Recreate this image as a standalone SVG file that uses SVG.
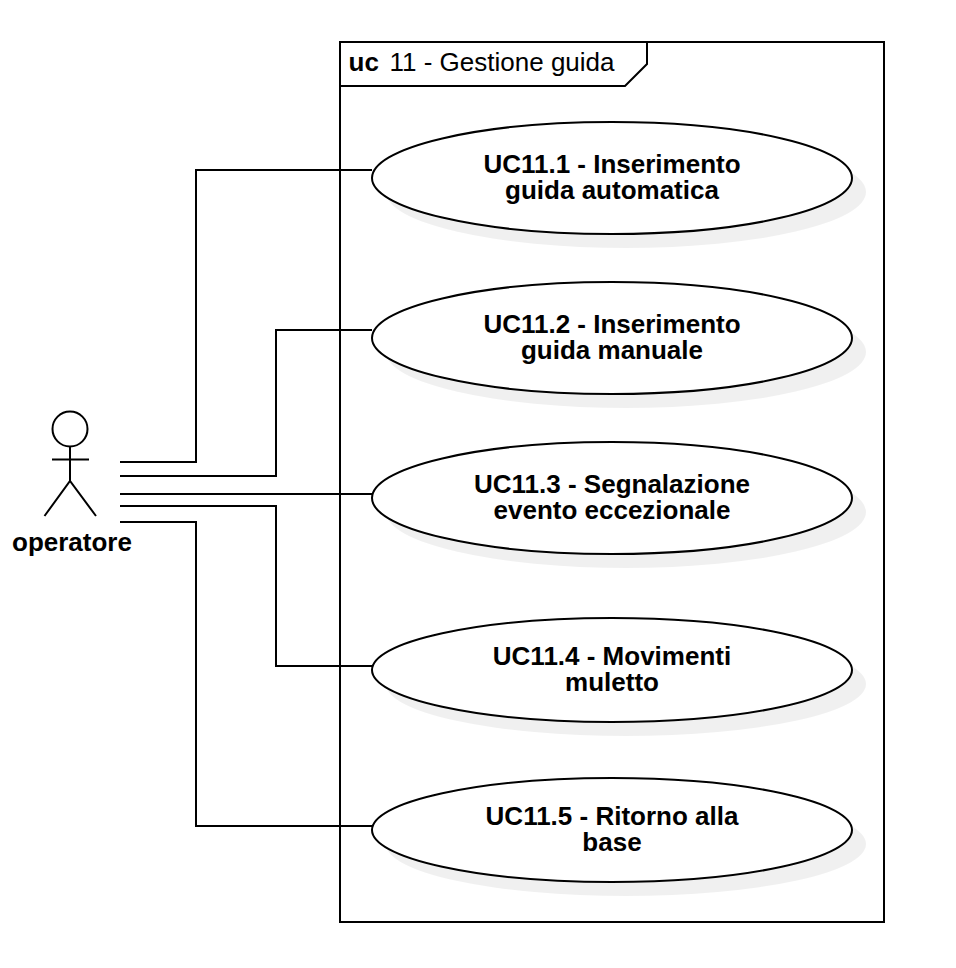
<svg xmlns="http://www.w3.org/2000/svg" width="956" height="968" viewBox="0 0 956 968">
<style>
.ln{fill:none;stroke:#000;stroke-width:2}
.sh{fill:#000;fill-opacity:.06;stroke:none}
.uc{fill:#fff;stroke:#000;stroke-width:2}
text{font-family:"Liberation Sans",Arial,sans-serif;fill:#000;font-size:26px}
.b{font-weight:bold;text-anchor:middle}
</style>
<rect width="956" height="968" fill="#fff"/>
<g id="frame">
<rect x="340" y="42" width="544" height="880" class="ln"/>
<path d="M340 86H625L647 64V42" class="ln"/>
<text x="348.500" y="71" font-weight="bold">uc</text>
<text x="389.500" y="71">11 - Gestione guida</text>
</g>
<g id="connectors">
<path d="M120 462H196V170H372" class="ln"/>
<path d="M120 476H276V330H372" class="ln"/>
<path d="M120 494H372" class="ln"/>
<path d="M120 506H276V666H372" class="ln"/>
<path d="M120 522H196V826H372" class="ln"/>
</g>
<g id="actor">
<circle cx="70" cy="429" r="17.500" class="ln"/>
<path d="M70 447V481M52 459.500H89M44.500 516L70 481L96 516" class="ln"/>
<text x="72" y="551" class="b">operatore</text>
</g>
<g id="uc1">
<ellipse cx="626" cy="192" rx="240" ry="56" class="sh"/>
<ellipse cx="612" cy="178" rx="240" ry="56" class="uc"/>
<text class="b"><tspan x="612" y="173">UC11.1 - Inserimento</tspan><tspan x="612" y="199">guida automatica</tspan></text>
</g>
<g id="uc2">
<ellipse cx="626" cy="352" rx="240" ry="56" class="sh"/>
<ellipse cx="612" cy="338" rx="240" ry="56" class="uc"/>
<text class="b"><tspan x="612" y="333">UC11.2 - Inserimento</tspan><tspan x="612" y="359">guida manuale</tspan></text>
</g>
<g id="uc3">
<ellipse cx="626" cy="512" rx="240" ry="56" class="sh"/>
<ellipse cx="612" cy="498" rx="240" ry="56" class="uc"/>
<text class="b"><tspan x="612" y="493">UC11.3 - Segnalazione</tspan><tspan x="612" y="519">evento eccezionale</tspan></text>
</g>
<g id="uc4">
<ellipse cx="626" cy="684" rx="240" ry="52" class="sh"/>
<ellipse cx="612" cy="670" rx="240" ry="52" class="uc"/>
<text class="b"><tspan x="612" y="665">UC11.4 - Movimenti</tspan><tspan x="612" y="691">muletto</tspan></text>
</g>
<g id="uc5">
<ellipse cx="626" cy="844" rx="240" ry="52" class="sh"/>
<ellipse cx="612" cy="830" rx="240" ry="52" class="uc"/>
<text class="b"><tspan x="612" y="825">UC11.5 - Ritorno alla</tspan><tspan x="612" y="851">base</tspan></text>
</g>
</svg>
